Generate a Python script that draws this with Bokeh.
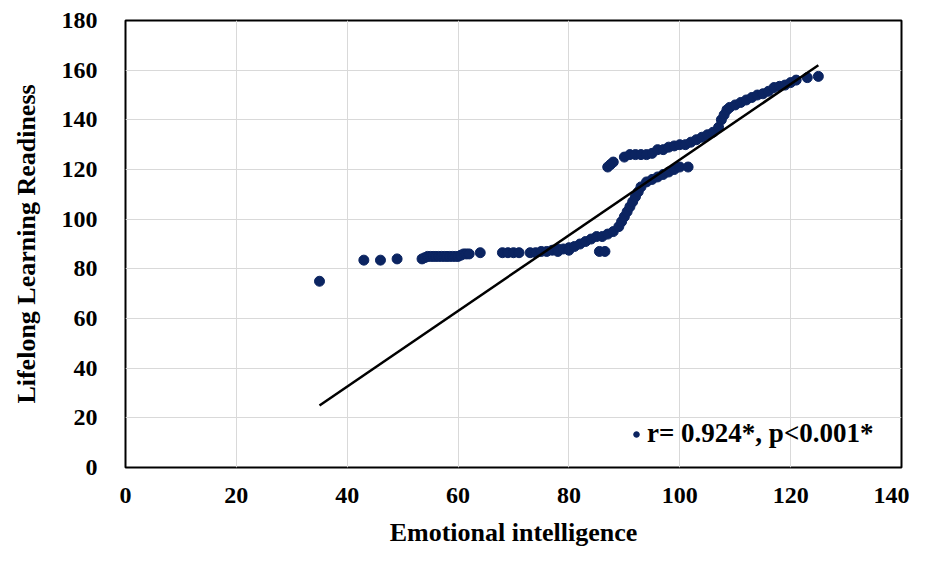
from bokeh.plotting import figure
from bokeh.models import Range1d, FixedTicker, Legend, LegendItem, ColumnDataSource
from bokeh.embed import file_html
from bokeh.resources import INLINE

# Emotional intelligence (x) vs Lifelong Learning Readiness (y)
ei = [35, 43, 46, 49,
      53.5, 54, 54.5, 55, 55.5, 56, 56.5, 57, 57.5, 58, 58.5, 59, 59.5, 60, 60.5, 61, 61.5, 62,
      64, 68, 69, 70, 71,
      73, 74, 75, 76, 77, 78, 78, 79, 80, 80, 81, 82, 83, 84, 85, 86, 87, 88, 89, 89.5, 90, 90.5,
      91, 91.5, 92, 92.5, 93, 94, 95, 96, 97, 98, 99, 100, 101.5,
      85.5, 86.5,
      87, 87.5, 88, 90, 91, 92, 93, 94, 95, 96, 97, 98, 99, 100, 101, 102, 103, 104, 105, 106,
      107, 107.5, 108, 108.5, 109, 110, 111, 112, 113, 114, 115, 116, 117, 118, 119, 120, 121,
      123, 125]
llr = [75, 83.5, 83.5, 84,
       84, 84.5, 85, 85, 85, 85, 85, 85, 85, 85, 85, 85, 85, 85, 85.5, 86, 86, 86,
       86.5, 86.5, 86.5, 86.5, 86.5,
       86.5, 86.5, 87, 87, 87.5, 88, 87, 88, 88.5, 87.5, 89, 90, 91, 92, 93, 93, 94, 95, 97, 99, 101, 103,
       105, 107, 109, 111, 113, 115, 116, 117, 118, 119, 120, 121, 121,
       87, 87,
       121, 122, 123, 125, 126, 126, 126, 126, 126.5, 128, 128, 129, 129.5, 130, 130, 131, 132, 133, 134, 135,
       137, 140, 142, 144, 145, 146, 147, 148, 149, 150, 150.5, 151.5, 153, 153.5, 154, 155, 156,
       157, 157.5]

# Fitted trend line end points
trend_x = [35, 125]
trend_y = [25, 162]

x_ticks = [0, 20, 40, 60, 80, 100, 120, 140]
y_ticks = [0, 20, 40, 60, 80, 100, 120, 140, 160, 180]

legend_label = "r= 0.924*, p<0.001*"
x_title = "Emotional intelligence"
y_title = "Lifelong Learning Readiness"

FONT = "Liberation Serif"
NAVY = "#0b2461"

p = figure(width=909, height=549, output_backend="svg", toolbar_location=None,
           x_range=Range1d(0, 140), y_range=Range1d(0, 180),
           min_border_left=125, min_border_right=8, min_border_top=20, min_border_bottom=82)

p.background_fill_color = "white"
p.border_fill_color = "white"
p.outline_line_color = "black"
p.outline_line_width = 2

for ax in (p.xaxis[0], p.yaxis[0]):
    ax.axis_line_color = None
    ax.major_tick_line_color = None
    ax.minor_tick_line_color = None
    ax.major_label_text_font = FONT
    ax.major_label_text_font_style = "bold"
    ax.major_label_text_font_size = "24px"
    ax.major_label_text_color = "black"
    ax.axis_label_text_font = FONT
    ax.axis_label_text_font_style = "bold"
    ax.axis_label_text_font_size = "26px"
    ax.axis_label_text_color = "black"

p.xaxis[0].ticker = FixedTicker(ticks=x_ticks)
p.yaxis[0].ticker = FixedTicker(ticks=y_ticks)
p.xaxis[0].axis_label = x_title
p.yaxis[0].axis_label = y_title
p.xaxis[0].major_label_standoff = 14
p.yaxis[0].major_label_standoff = 22
p.xaxis[0].axis_label_standoff = 12
p.yaxis[0].axis_label_standoff = 18

p.xgrid.ticker = FixedTicker(ticks=x_ticks)
p.ygrid.ticker = FixedTicker(ticks=y_ticks)
p.xgrid.grid_line_color = "#d9d9d9"
p.ygrid.grid_line_color = "#d9d9d9"
p.xgrid.grid_line_width = 1
p.ygrid.grid_line_width = 1

src = ColumnDataSource(dict(x=ei, y=llr))
pts = p.scatter("x", "y", source=src, size=10, fill_color=NAVY, line_color=NAVY)
p.line(trend_x, trend_y, line_color="black", line_width=2.5)

legend = Legend(items=[LegendItem(label=legend_label, renderers=[pts])],
                location=(504, 18), glyph_width=14, glyph_height=14, label_standoff=4,
                padding=0, margin=0, border_line_color=None, background_fill_alpha=0,
                label_text_font=FONT, label_text_font_style="bold",
                label_text_font_size="27px", label_text_color="black")
p.add_layout(legend)

open("out.html", "w").write(file_html(p, INLINE))
